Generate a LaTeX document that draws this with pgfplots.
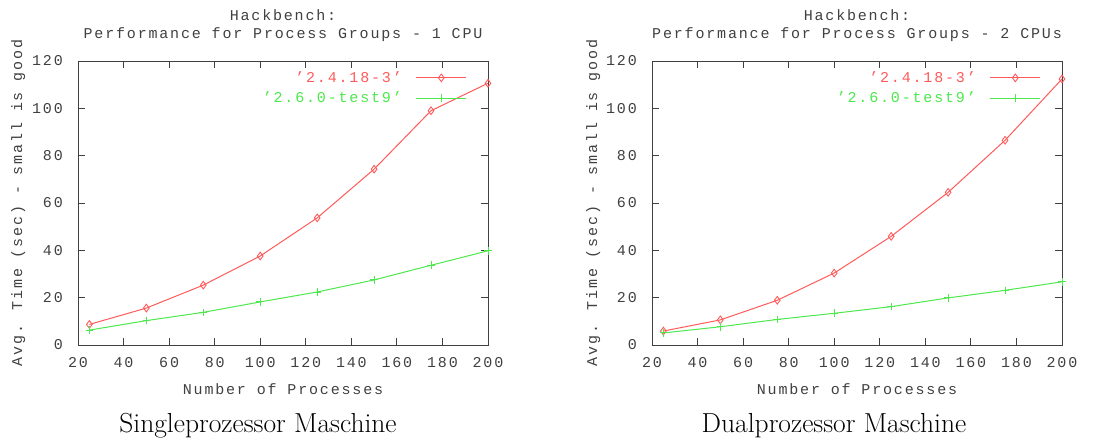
\documentclass[border=0pt]{standalone}
\usepackage{pgfplots}
\pgfplotsset{compat=1.18}
\usepackage{fontspec}
\newfontfamily\gp[LetterSpace=12.2]{Liberation Mono}
\definecolor{gpred}{HTML}{FF5A5A}
\definecolor{gpgreen}{HTML}{4CE84C}
\definecolor{gpgray}{HTML}{404040}
\newcommand\gpf{\gp\fontsize{15bp}{17bp}\selectfont}
\newcommand\capf{\fontsize{27.5bp}{32bp}\selectfont}

\tikzset{
  serA/.style={draw=gpred, line width=1bp, mark=diamond, mark size=3.8bp, mark options={solid, draw=gpred, line width=0.9bp}},
  serB/.style={draw=gpgreen, line width=1bp, mark=+, mark size=3.8bp, mark options={solid, draw=gpgreen, line width=0.9bp}},
}
\pgfplotsset{gnu/.style={
  scale only axis, width=410bp, height=284bp, anchor=south west,
  xmin=20, xmax=200, ymin=0, ymax=120,
  xtick={20,40,...,200}, ytick={0,20,...,120},
  axis line style={gpgray, line width=0.9bp},
  tick style={gpgray, line width=0.9bp},
  major tick length=7bp, tick align=inside, xtick pos=both, ytick pos=both,
  ticklabel style={font=\gpf, text=gpgray, inner sep=0pt},
  /pgf/number format/assume math mode=true,
  xticklabel style={anchor=base, yshift=-22bp},
  yticklabel style={anchor=east, xshift=-15bp},
  clip=false,
  legend plot pos=right,
  legend cell align=right,
  legend style={at={(rel axis cs:1,1)}, anchor=north east, xshift=-21bp, yshift=-8.5bp,
    draw=none, fill=none, font=\gpf, inner sep=0pt, row sep=4bp, column sep=12bp},
  legend image code/.code={\draw[mark repeat=2,mark phase=2,##1] plot coordinates {(0bp,0bp) (25bp,0bp) (50bp,0bp)};},
}}

\begin{document}
\begin{tikzpicture}
% single CPU
\begin{axis}[gnu, at={(78bp,93bp)}]
\addplot[serA] coordinates
 {(25,8.7) (50,15.6) (75,25.3) (100,37.6) (125,53.7) (150,74.3) (175,99.0) (200,110.6)};
\addlegendentry[text=gpred]{’2.4.18-3’}
\addplot[serB] coordinates
 {(25,6.3) (50,10.3) (75,13.8) (100,18.2) (125,22.4) (150,27.5) (175,33.7) (200,39.8)};
\addlegendentry[text=gpgreen]{’2.6.0-test9’}
\end{axis}
% two CPUs
\begin{axis}[gnu, at={(652bp,93bp)}]
\addplot[serA] coordinates
 {(25,5.9) (50,10.6) (75,18.9) (100,30.4) (125,45.9) (150,64.5) (175,86.5) (200,112.4)};
\addlegendentry[text=gpred]{’2.4.18-3’}
\addplot[serB] coordinates
 {(25,5.1) (50,7.7) (75,10.8) (100,13.4) (125,16.2) (150,19.9) (175,23.1) (200,26.7)};
\addlegendentry[text=gpgreen]{’2.6.0-test9’}
\end{axis}

\begin{scope}[every node/.style={font=\gpf, text=gpgray, inner sep=0pt, anchor=base}]
\node at (283bp,417bp) {Hackbench:};
\node at (283bp,399bp) {Performance for Process Groups - 1 CPU};
\node at (283bp,43bp) {Number of Processes};
\node[rotate=90] at (22bp,235bp) {Avg. Time (sec) - small is good};
\node at (857bp,417bp) {Hackbench:};
\node at (857bp,399bp) {Performance for Process Groups - 2 CPUs};
\node at (857bp,43bp) {Number of Processes};
\node[rotate=90] at (597bp,235bp) {Avg. Time (sec) - small is good};
\end{scope}
\node[anchor=base, inner sep=0pt, font=\capf] at (258bp,6bp) {Singleprozessor Maschine};
\node[anchor=base, inner sep=0pt, font=\capf] at (834bp,6bp) {Dualprozessor Maschine};

\pgfresetboundingbox
\path[use as bounding box] (0,0) rectangle (1105bp,438bp);
\end{tikzpicture}
\end{document}
